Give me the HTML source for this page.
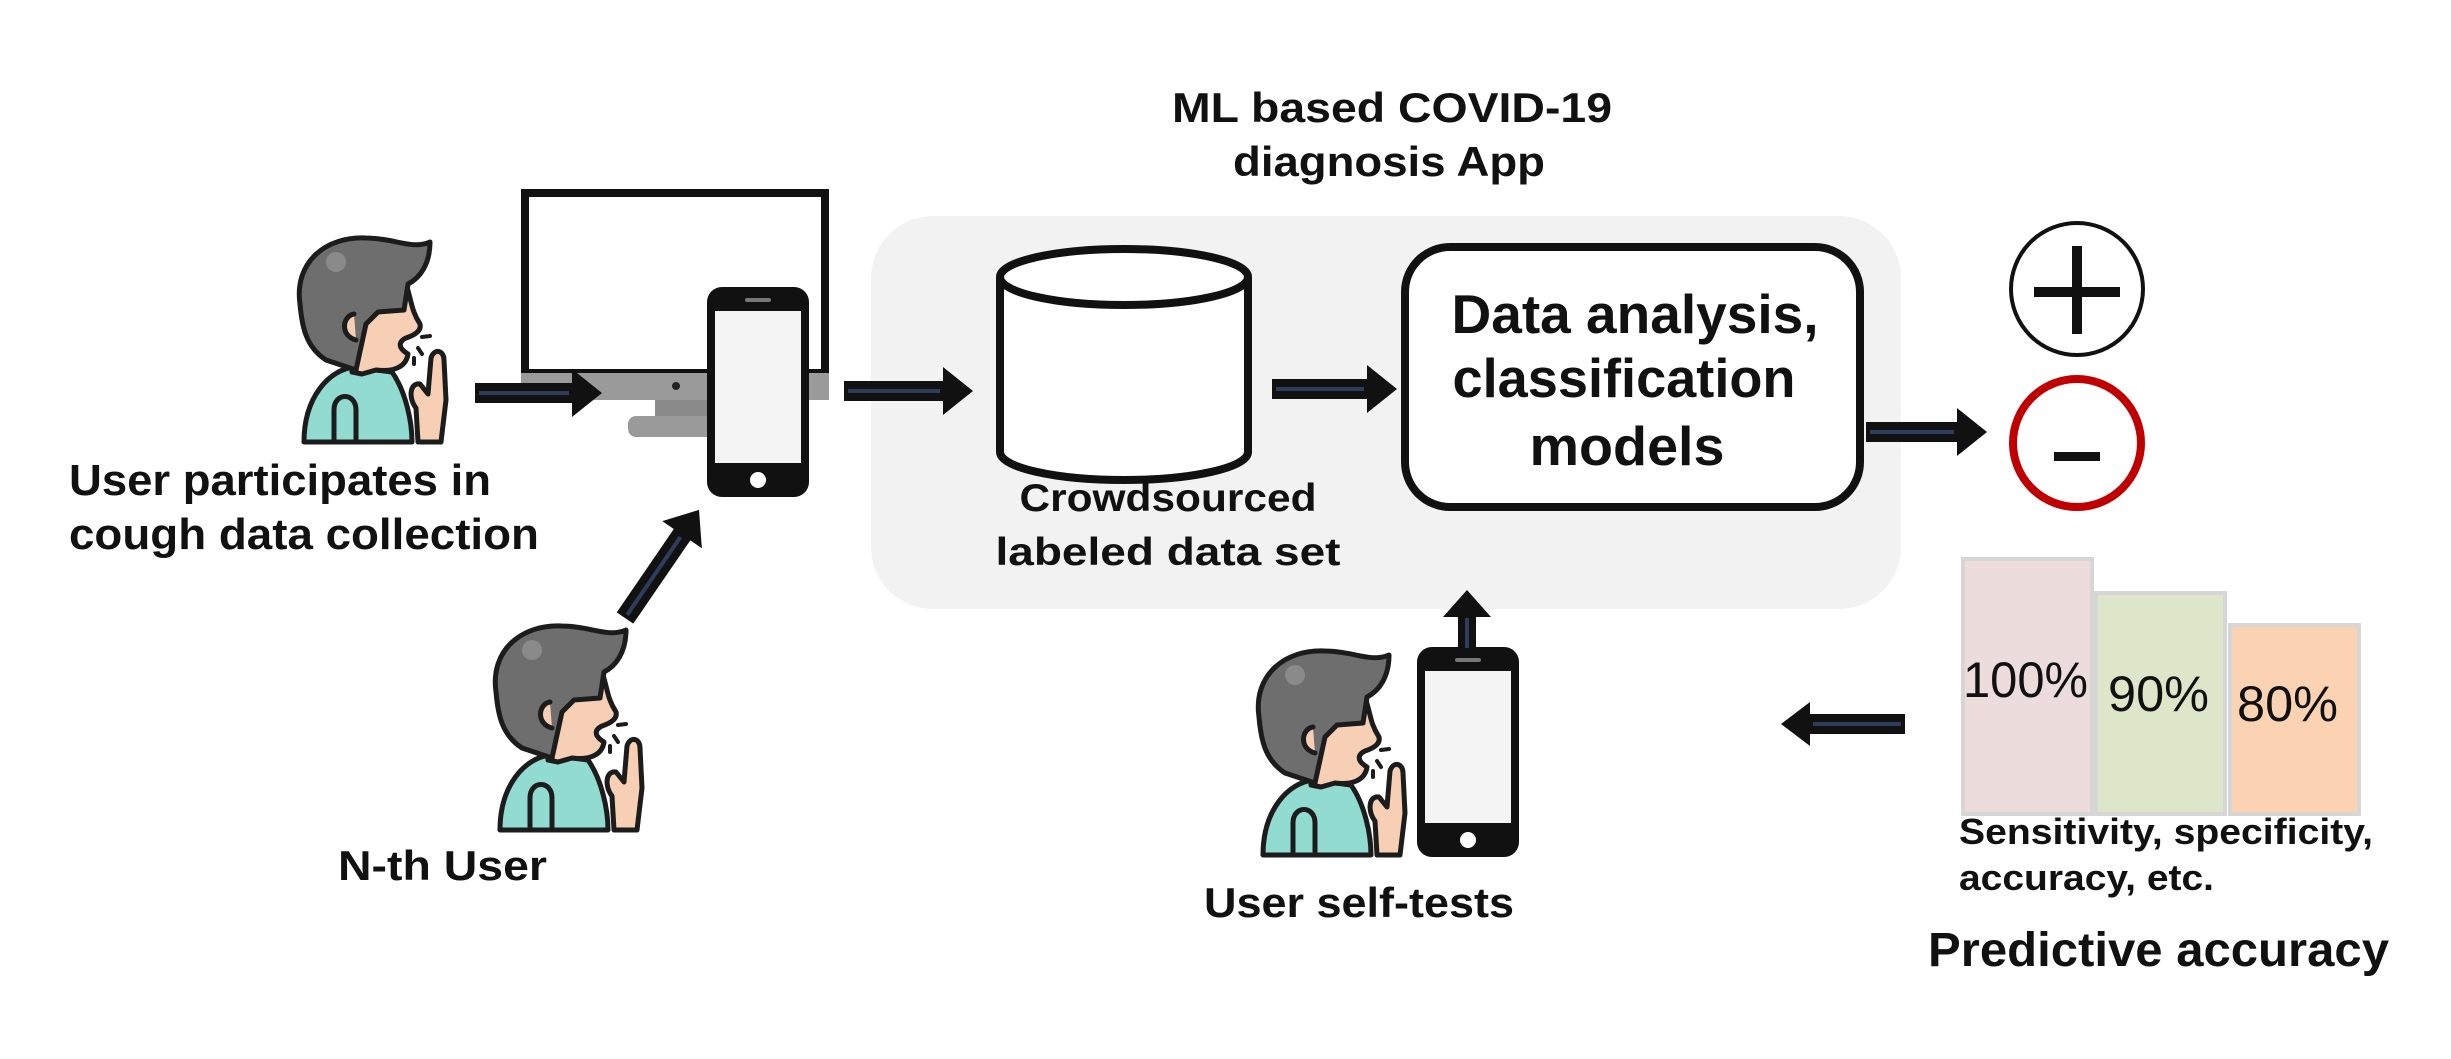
<!DOCTYPE html>
<html><head><meta charset="utf-8"><style>
html,body{margin:0;padding:0;background:#fff;}
svg{display:block;}
text{font-family:"Liberation Sans",sans-serif;fill:#111;}
</style></head><body>
<svg width="2451" height="1059" viewBox="0 0 2451 1059" xmlns="http://www.w3.org/2000/svg">
<defs>
<g id="person" stroke="#1c1c1c" stroke-width="5" stroke-linejoin="round" stroke-linecap="round">
  <path d="M10,210 C10,165 35,138 60,135 L98,140 C112,160 118,190 118,210 Z" fill="#92dbd0"/>
  <path d="M40,210 L40,178 C40,160 62,160 62,178 L62,210" fill="none"/>
  <path d="M55,60 L112,52 C118,70 117,78 126,92 C128,100 118,104 112,106 C104,110 104,116 114,122 C112,136 98,140 82,138 L68,142 L58,140 Z" fill="#f7cfb4"/>
  <path d="M6,72 C0,30 32,4 72,6 C100,6 118,18 136,10 C136,32 126,46 114,52 L110,78 L84,80 L72,92 L62,138 L32,128 C12,115 8,95 6,72 Z" fill="#6e6e6e"/>
  <circle cx="42" cy="30" r="10" fill="#8a8a8a" stroke="none"/>
  <path d="M60,82 C48,84 46,104 62,108" fill="#f7cfb4"/>
  <path d="M124,210 L122,176 C114,166 116,150 126,152 L134,162 L137,126 C140,116 150,118 150,128 L152,168 L147,210 Z" fill="#f7cfb4"/>
  <path d="M128,105 L136,104 M124,116 L128,122 M120,126 L120,132" fill="none" stroke-width="4"/>
</g>
<g id="phone">
  <rect x="0" y="0" width="102" height="210" rx="15" fill="#111"/>
  <rect x="8" y="24" width="86" height="152" fill="#f4f4f4"/>
  <rect x="38" y="11" width="26" height="4" rx="2" fill="#777"/>
  <circle cx="51" cy="193" r="8" fill="#fff"/>
</g>
</defs>

<!-- title -->
<text x="1392" y="122" font-size="42" font-weight="bold" text-anchor="middle" textLength="440" lengthAdjust="spacingAndGlyphs">ML based COVID-19</text>
<text x="1389" y="176" font-size="42" font-weight="bold" text-anchor="middle" textLength="312" lengthAdjust="spacingAndGlyphs">diagnosis App</text>

<!-- gray panel -->
<rect x="871" y="216" width="1030" height="393" rx="62" fill="#f2f2f2"/>

<!-- cylinder -->
<path d="M1000,277 L1000,452 A124,28 0 0 0 1248,452 L1248,277" fill="#fff" stroke="#111" stroke-width="8"/>
<ellipse cx="1124" cy="277" rx="124" ry="28" fill="#fff" stroke="#111" stroke-width="8"/>
<text x="1168" y="511" font-size="39" font-weight="bold" text-anchor="middle" textLength="297" lengthAdjust="spacingAndGlyphs">Crowdsourced</text>
<text x="1168" y="565" font-size="39" font-weight="bold" text-anchor="middle" textLength="345" lengthAdjust="spacingAndGlyphs">labeled data set</text>

<!-- process box -->
<rect x="1405" y="247" width="455" height="260" rx="45" fill="#fff" stroke="#111" stroke-width="8"/>
<text x="1635" y="333" font-size="55" font-weight="bold" text-anchor="middle" textLength="367" lengthAdjust="spacingAndGlyphs">Data analysis,</text>
<text x="1624" y="397" font-size="55" font-weight="bold" text-anchor="middle" textLength="343" lengthAdjust="spacingAndGlyphs">classification</text>
<text x="1627" y="465" font-size="55" font-weight="bold" text-anchor="middle" textLength="195" lengthAdjust="spacingAndGlyphs">models</text>

<!-- plus / minus -->
<circle cx="2077" cy="289" r="66" fill="#fff" stroke="#111" stroke-width="4"/>
<rect x="2034" y="287" width="86" height="10" fill="#111"/>
<rect x="2072" y="246" width="10" height="88" fill="#111"/>
<circle cx="2077" cy="443" r="64" fill="#fff" stroke="#c00000" stroke-width="8"/>
<rect x="2054" y="452" width="46" height="9" fill="#111"/>

<!-- monitor -->
<rect x="525" y="193" width="300" height="180" fill="#fff" stroke="#111" stroke-width="8"/>
<rect x="521" y="373" width="308" height="27" fill="#9a9a9a"/>
<circle cx="676" cy="386" r="4" fill="#222"/>
<rect x="655" y="400" width="70" height="18" fill="#8a8a8a"/>
<rect x="628" y="416" width="140" height="21" rx="8" fill="#9a9a9a"/>
<use href="#phone" x="707" y="287"/>

<!-- persons -->
<use href="#person" x="294" y="232"/>
<use href="#person" x="490" y="620"/>
<use href="#person" x="1253" y="645"/>
<use href="#phone" x="1417" y="647"/>

<!-- arrows (local: along +x, length L) -->
<g fill="#111">
<g transform="translate(475,393)"><rect x="0" y="-10" width="100" height="20"/><polygon points="97,-24 127,0 97,24"/><rect x="4" y="-2" width="90" height="4" fill="#2e3d5c"/></g>
<g transform="translate(844,391)"><rect x="0" y="-10" width="102" height="20"/><polygon points="99,-24 129,0 99,24"/><rect x="4" y="-2" width="92" height="4" fill="#2e3d5c"/></g>
<g transform="translate(1272,389)"><rect x="0" y="-10" width="98" height="20"/><polygon points="95,-24 125,0 95,24"/><rect x="4" y="-2" width="88" height="4" fill="#2e3d5c"/></g>
<g transform="translate(1866,432)"><rect x="0" y="-10" width="94" height="20"/><polygon points="91,-24 121,0 91,24"/><rect x="4" y="-2" width="84" height="4" fill="#2e3d5c"/></g>
<g transform="translate(625,618) rotate(-55.6)"><rect x="0" y="-10" width="104" height="20"/><polygon points="101,-24 131,0 101,24"/><rect x="4" y="-2" width="94" height="4" fill="#2e3d5c"/></g>
<g transform="translate(1467,650) rotate(-90)"><rect x="0" y="-9" width="36" height="18"/><polygon points="33,-24 60,0 33,24"/><rect x="2" y="-2" width="30" height="4" fill="#2e3d5c"/></g>
<g transform="translate(1905,724) rotate(180)"><rect x="0" y="-10" width="98" height="20"/><polygon points="95,-22 124,0 95,22"/><rect x="4" y="-2" width="88" height="4" fill="#2e3d5c"/></g>
</g>

<!-- labels -->
<text x="69" y="495" font-size="44" font-weight="bold" textLength="422" lengthAdjust="spacingAndGlyphs">User participates in</text>
<text x="69" y="549" font-size="44" font-weight="bold" textLength="470" lengthAdjust="spacingAndGlyphs">cough data collection</text>
<text x="338" y="880" font-size="42" font-weight="bold" textLength="209" lengthAdjust="spacingAndGlyphs">N-th User</text>
<text x="1204" y="917" font-size="42" font-weight="bold" textLength="310" lengthAdjust="spacingAndGlyphs">User self-tests</text>

<!-- bars -->
<rect x="1963" y="559" width="129" height="255" fill="#eddcdc" stroke="#d6d6d6" stroke-width="4"/>
<rect x="2096" y="593" width="129" height="221" fill="#dde6c9" stroke="#d6d6d6" stroke-width="4"/>
<rect x="2230" y="625" width="129" height="189" fill="#fbd2b2" stroke="#d6d6d6" stroke-width="4"/>
<text x="1963" y="697" font-size="50" textLength="125" lengthAdjust="spacingAndGlyphs">100%</text>
<text x="2108" y="711" font-size="50" textLength="101" lengthAdjust="spacingAndGlyphs">90%</text>
<text x="2237" y="721" font-size="50" textLength="101" lengthAdjust="spacingAndGlyphs">80%</text>
<text x="1959" y="844" font-size="36" font-weight="bold" textLength="414" lengthAdjust="spacingAndGlyphs">Sensitivity, specificity,</text>
<text x="1959" y="890" font-size="36" font-weight="bold" textLength="255" lengthAdjust="spacingAndGlyphs">accuracy, etc.</text>
<text x="1928" y="966" font-size="48" font-weight="bold" textLength="461" lengthAdjust="spacingAndGlyphs">Predictive accuracy</text>
</svg>
</body></html>
